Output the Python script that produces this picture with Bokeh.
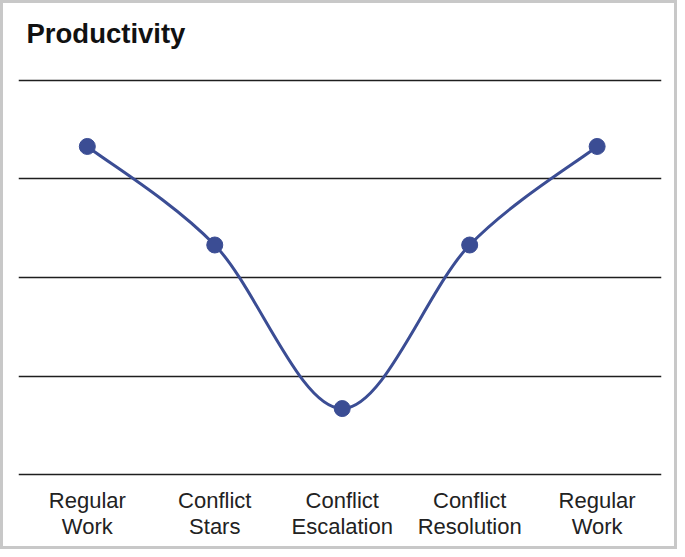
from bokeh.plotting import figure
from bokeh.models import FixedTicker, Range1d, Label
from bokeh.embed import file_html
from bokeh.resources import INLINE

# ---- data ----
title_text = "Productivity"
stages = ["Regular\nWork", "Conflict\nStars", "Conflict\nEscalation",
          "Conflict\nResolution", "Regular\nWork"]
productivity = [3.33, 2.33, 0.67, 2.33, 3.33]
grid_levels = [0, 1, 2, 3, 4]

xs = list(range(len(stages)))
LINE = "#3b4d94"

p = figure(width=677, height=549, output_backend="svg", toolbar_location=None,
           x_range=Range1d(-0.54, 4.505), y_range=Range1d(-0.05, 4.781),
           y_axis_location=None,
           min_border_left=15, min_border_right=19,
           min_border_top=0, min_border_bottom=73,
           styles={"border": "3px solid #c8c8c8"})
p.outline_line_color = None
p.background_fill_color = "white"
p.border_fill_color = "white"

# title (as a label placed relative to the plot frame, in screen units)
p.add_layout(Label(x=8, y=446, x_units="screen", y_units="screen",
                   text=title_text, text_font="Liberation Sans",
                   text_font_style="bold", text_font_size="27.5px",
                   text_color="#111111", text_baseline="alphabetic",
                   text_align="left"))

# grid
p.xgrid.visible = False
p.ygrid.ticker = FixedTicker(ticks=grid_levels)
p.ygrid.grid_line_color = "#1e1e1e"
p.ygrid.grid_line_width = 1.6

# x axis
p.xaxis.ticker = FixedTicker(ticks=xs)
p.xaxis.major_label_overrides = {i: s for i, s in enumerate(stages)}
p.xaxis.axis_line_color = None
p.xaxis.major_tick_line_color = None
p.xaxis.minor_tick_line_color = None
p.xaxis.major_tick_out = 0
p.xaxis.major_tick_in = 0
p.xaxis.major_label_standoff = 8
p.xaxis.major_label_text_font = "Liberation Sans"
p.xaxis.major_label_text_font_size = "22px"
p.xaxis.major_label_text_line_height = 1.05
p.xaxis.major_label_text_color = "#222222"

# Catmull-Rom spline through the points, drawn as Bezier segments
n = len(xs)
def pt(i):
    i = max(0, min(n - 1, i))
    return xs[i], productivity[i]

x0, y0, x1, y1, cx0, cy0, cx1, cy1 = [], [], [], [], [], [], [], []
for i in range(n - 1):
    pa, pb, pc, pd = pt(i - 1), pt(i), pt(i + 1), pt(i + 2)
    x0.append(pb[0]); y0.append(pb[1])
    x1.append(pc[0]); y1.append(pc[1])
    cx0.append(pb[0] + (pc[0] - pa[0]) / 6); cy0.append(pb[1] + (pc[1] - pa[1]) / 6)
    cx1.append(pc[0] - (pd[0] - pb[0]) / 6); cy1.append(pc[1] - (pd[1] - pb[1]) / 6)

p.bezier(x0=x0, y0=y0, x1=x1, y1=y1, cx0=cx0, cy0=cy0, cx1=cx1, cy1=cy1,
         line_color=LINE, line_width=3)
p.scatter(xs, productivity, size=16, fill_color=LINE, line_color=LINE)

open("out.html", "w").write(file_html(p, INLINE))
